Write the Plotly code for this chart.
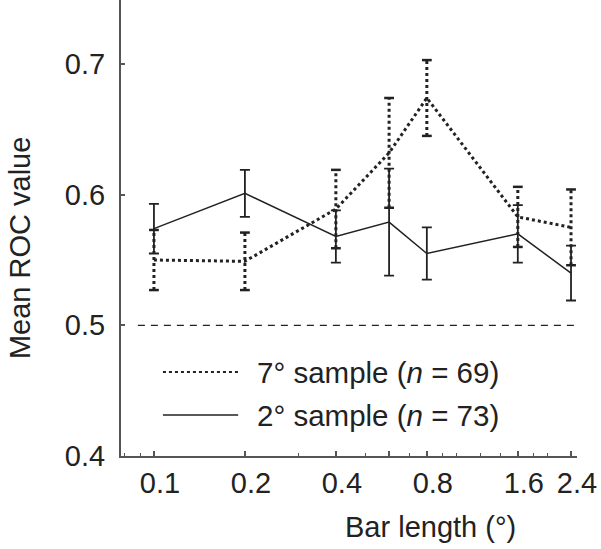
import plotly.graph_objects as go

# ---- data ----
bar_length = [0.1, 0.2, 0.4, 0.6, 0.8, 1.6, 2.4]
roc_7deg = [0.550, 0.549, 0.589, 0.632, 0.674, 0.583, 0.575]
err_7deg = [0.023, 0.022, 0.030, 0.042, 0.029, 0.023, 0.029]
roc_2deg = [0.574, 0.601, 0.568, 0.579, 0.555, 0.570, 0.540]
err_2deg = [0.019, 0.018, 0.020, 0.041, 0.020, 0.022, 0.021]

tick_vals = [0.1, 0.2, 0.4, 0.6, 0.8, 1.6, 2.4]
tick_text = ["0.1", "0.2", "0.4", "", "0.8", "1.6", "2.4"]
minor_vals = [0.08, 0.09, 0.3, 0.5, 0.7, 0.9, 1.0, 1.2, 1.4, 1.8, 2.0]
y_ticks = [0.4, 0.5, 0.6, 0.7]
label_7 = "7° sample (<i>n</i> = 69)"
label_2 = "2° sample (<i>n</i> = 73)"

FONT = "Liberation Sans, Arial, sans-serif"
FS = 29
INK = "#222222"
AXC = "#555555"

fig = go.Figure()

# dotted error bars for 7° sample (vertical dotted segments + caps)
ex, ey, cx, cy = [], [], [], []
for x, m, e in zip(bar_length, roc_7deg, err_7deg):
    ex += [x, x, None]
    ey += [m - e, m + e, None]
    cx += [x, x]
    cy += [m - e, m + e]
fig.add_trace(go.Scatter(x=ex, y=ey, mode="lines", showlegend=False,
                         line=dict(color=INK, width=3, dash="dot"), hoverinfo="skip"))
fig.add_trace(go.Scatter(x=cx, y=cy, mode="markers", showlegend=False,
                         marker=dict(symbol="line-ew", size=7, line=dict(color=INK, width=2.5)),
                         hoverinfo="skip"))

# 7° sample line
fig.add_trace(go.Scatter(x=bar_length, y=roc_7deg, mode="lines", name=label_7, showlegend=False,
                         line=dict(color=INK, width=3, dash="dot")))

# 2° sample line with error bars
fig.add_trace(go.Scatter(x=bar_length, y=roc_2deg, mode="lines", name=label_2, showlegend=False,
                         line=dict(color=INK, width=1.5),
                         error_y=dict(type="data", array=err_2deg, visible=True,
                                      color=INK, thickness=1.8, width=5)))

# chance line at 0.5
fig.add_shape(type="line", xref="paper", yref="y", x0=0.037, x1=1.0, y0=0.5, y1=0.5,
              line=dict(color=INK, width=1.2, dash="7px,6px"))

# custom legend
leg = [(0.1842, label_7, dict(color=INK, width=2, dash="dot")),
       (0.0899, label_2, dict(color=INK, width=1.3))]
for yy, txt, ln in leg:
    fig.add_shape(type="line", xref="paper", yref="paper", x0=0.092, x1=0.257,
                  y0=yy, y1=yy, line=ln)
    fig.add_annotation(xref="paper", yref="paper", x=0.294, y=yy, text=txt,
                       showarrow=False, xanchor="left", yanchor="middle",
                       font=dict(family=FONT, size=29.5, color=INK))

# axis titles as annotations
fig.add_annotation(xref="paper", yref="paper", x=0.678, y=-0.156, text="Bar length (°)",
                   showarrow=False, xanchor="center", yanchor="middle",
                   font=dict(family=FONT, size=FS, color=INK))
fig.add_annotation(xref="paper", yref="paper", x=-0.2215, y=0.456, text="Mean ROC value",
                   showarrow=False, textangle=-90, xanchor="center", yanchor="middle",
                   font=dict(family=FONT, size=FS, color=INK))

fig.update_layout(
    width=601, height=549,
    margin=dict(l=121, r=24, t=0, b=93),
    paper_bgcolor="white", plot_bgcolor="white",
    font=dict(family=FONT, size=FS, color=INK),
    xaxis=dict(type="log", range=[-1.109, 0.40],
               tickmode="array", tickvals=tick_vals, ticktext=tick_text,
               ticks="inside", ticklen=5, tickwidth=1.5, tickcolor=AXC,
               minor=dict(tickmode="array", tickvals=minor_vals, ticks="inside",
                          ticklen=3, tickwidth=1.2, tickcolor=AXC, showgrid=False),
               showline=True, linecolor=AXC, linewidth=2, mirror=False,
               showgrid=False, zeroline=False, ticklabelstandoff=0, ticklabelshift=6,
               automargin=False),
    yaxis=dict(range=[0.4, 0.749], tickmode="array", tickvals=y_ticks,
               ticktext=["0.4", "0.5", "0.6", "0.7"],
               ticks="inside", ticklen=4, tickwidth=1.5, tickcolor=AXC,
               showline=True, linecolor=AXC, linewidth=2, mirror=False,
               showgrid=False, zeroline=False, ticklabelstandoff=8, automargin=False),
    showlegend=False,
)

fig.write_html("out.html", config={"displayModeBar": False},
               post_script="document.body.style.margin='0';")
